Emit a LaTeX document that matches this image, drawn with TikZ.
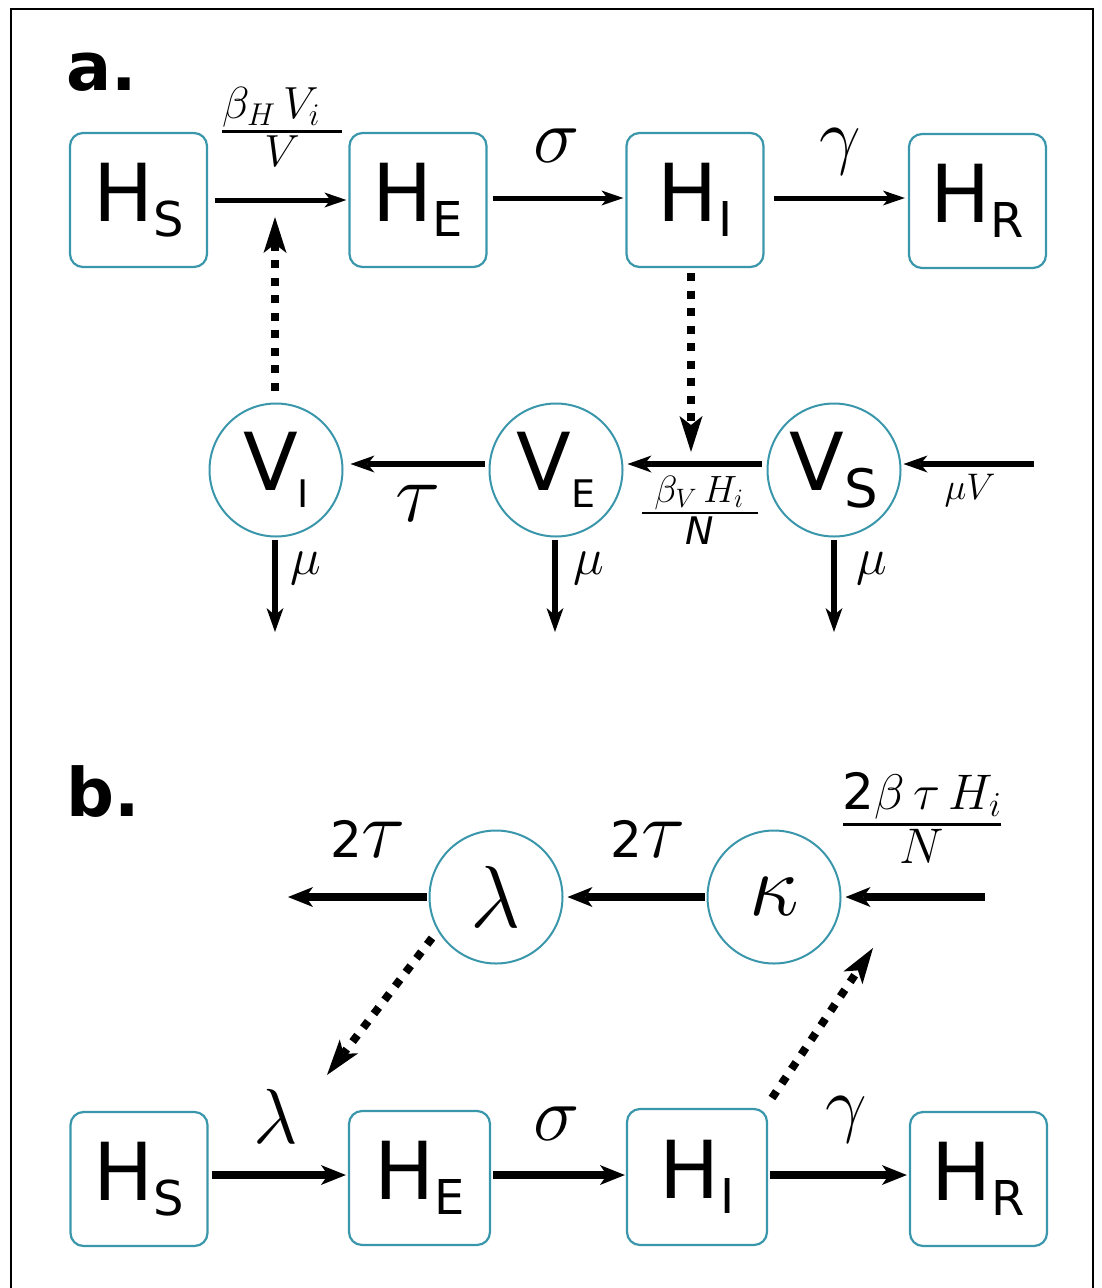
\RequirePackage{fix-cm}
\documentclass[tikz,border=0pt]{standalone}
\usepackage{amsmath}
\usepackage{fontspec}
\setmainfont{DejaVu Sans}
\usetikzlibrary{arrows.meta}
\definecolor{teal1}{RGB}{58,150,170}
\newcommand\fsz[1]{\fontsize{#1}{#1}\selectfont}
\newcommand\tfr[3]{\genfrac{}{}{#1}{1}{\textstyle #2}{\textstyle #3}}
\tikzset{
  hbox/.style={draw=teal1, line width=2.2pt, rounded corners=13pt, minimum width=137pt, minimum height=134pt, inner sep=0pt},
  vcirc/.style={circle, draw=teal1, line width=2pt, minimum size=133pt, inner sep=0pt},
  flow/.style={line width=5pt, -{Stealth[length=22pt, width=15pt, inset=6pt, line width=0pt]}},
  flowv/.style={line width=6pt, -{Stealth[length=24pt, width=17pt, inset=7pt, line width=0pt]}},
  flowb/.style={line width=7.5pt, -{Stealth[length=25pt, width=20pt, inset=7pt, line width=0pt]}},
  infl/.style={line width=8pt, dash pattern=on 8pt off 9.5pt, -{Stealth[length=36pt, width=23pt, inset=9pt, line width=0pt]}},
  lbl/.style={inner sep=0pt},
}
\begin{document}
\begin{tikzpicture}[x=1pt, y=-1pt]
\useasboundingbox (0,0) rectangle (1101,1288);
\clip (0,0) rectangle (1101,1288);
\draw[line width=1.5pt] (11,9) rectangle (1093,1300);

% ---------- panel a ----------
\node[lbl, anchor=base west] (la) at (66,90) {\fsz{67}\bfseries a.};

\node[hbox] (HS) at (138.5,200) {\fsz{80}H\raisebox{-15pt}{\fsz{48}S}};
\node[hbox] (HE) at (418,200) {\fsz{80}H\raisebox{-15pt}{\fsz{48}E}};
\node[hbox] (HI) at (695,200) {\fsz{80}H\raisebox{-15pt}{\fsz{48}I}};
\node[hbox] (HR) at (977.5,201) {\fsz{80}H\raisebox{-15pt}{\fsz{48}R}};

\node[vcirc] (VI) at (276,470) {\fsz{80}V\raisebox{-17pt}{\fsz{38}I}};
\node[vcirc] (VE) at (556,470) {\fsz{80}V\raisebox{-17pt}{\fsz{38}E}};
\node[vcirc] (VS) at (834,470) {\fsz{80}V\raisebox{-17pt}{\fsz{53}S}};

\draw[flow] ([shift={(7,0)}]HS.east) -- ([shift={(-2,0)}]HE.west);
\draw[flow] ([shift={(5,-2)}]HE.east) -- ([shift={(-2,-2)}]HI.west);
\draw[flow] ([shift={(9,-2)}]HI.east) -- ([shift={(-3,-3)}]HR.west);

\coordinate (muVin) at (1034,464);
\draw[flowv] ([shift={(-4,-6)}]VE.west) -- ([shift={(7,-6)}]VI.east);
\draw[flowv] ([shift={(-5,-6)}]VS.west) -- ([shift={(4,-6)}]VE.east);
\draw[flowv] (muVin) -- ([shift={(2,-6)}]VS.east);

\coordinate (oI) at (275,632);
\coordinate (oE) at (555,632);
\coordinate (oS) at (834,632);
\draw[flowv] ([shift={(-1,2)}]VI.south) -- (oI);
\draw[flowv] ([shift={(-1,2)}]VE.south) -- (oE);
\draw[flowv] ([shift={(0,2)}]VS.south) -- (oS);

\coordinate (tipA) at (275,217);
\coordinate (tipB) at (691,452);
\draw[infl] ([shift={(-1,-12)}]VI.north) -- (tipA);
\draw[infl] ([shift={(-4,5)}]HI.south) -- (tipB);

\node[lbl] (fHS) at (282,127) {\fsz{45}$\tfr{2.6pt}{\beta_H\, V_i\hspace{22pt}}{V}$};
\node[lbl] (sgA) at (557,146) {\fsz{78}$\sigma$};
\node[lbl] (gmA) at (840,152) {\fsz{74}$\gamma$};
\node[lbl] (tauA) at (418,503) {\fsz{84}$\tau$};
\node[lbl] (fVS) at (700,510) {\fsz{38}$\tfr{2.4pt}{\hspace{12pt}\beta_V\,H_i\hspace{14pt}}{\mbox{\itshape N}}$};
\node[lbl] (muV) at (970,490) {\fsz{37}$\mu V$};
\node[lbl] (muI) at (306,568) {\fsz{52}$\mu$};
\node[lbl] (muE) at (589,568) {\fsz{52}$\mu$};
\node[lbl] (muS) at (872,568) {\fsz{52}$\mu$};

% ---------- panel b ----------
\node[lbl, anchor=base west] (lb) at (66,816) {\fsz{67}\bfseries b.};

\node[vcirc] (LAM) at (496,897) {\fsz{88}$\lambda$};
\node[vcirc] (KAP) at (774,897) {\fsz{88}$\kappa$};

\node[hbox] (HS2) at (139,1179) {\fsz{80}H\raisebox{-15pt}{\fsz{48}S}};
\node[hbox, minimum width=141pt] (HE2) at (419.5,1178) {\fsz{80}H\raisebox{-15pt}{\fsz{48}E}};
\node[hbox, minimum width=140pt, minimum height=136pt] (HI2) at (697,1177) {\fsz{80}H\raisebox{-15pt}{\fsz{48}I}};
\node[hbox] (HR2) at (978.5,1179) {\fsz{80}H\raisebox{-15pt}{\fsz{48}R}};

\coordinate (kin) at (985,897);
\coordinate (lout) at (288,897);
\draw[flowb] (kin) -- ([shift={(4,0)}]KAP.east);
\draw[flowb] ([shift={(-2,0)}]KAP.west) -- ([shift={(4,0)}]LAM.east);
\draw[flowb] ([shift={(-2,0)}]LAM.west) -- (lout);

\draw[flowb] ([shift={(3,-4)}]HS2.east) -- ([shift={(-2,-3)}]HE2.west);
\draw[flowb] ([shift={(2,-3)}]HE2.east) -- ([shift={(-1,-2)}]HI2.west);
\draw[flowb] ([shift={(2,-2)}]HI2.east) -- ([shift={(-2,-4)}]HR2.west);

\coordinate (tipL) at (327,1075);
\coordinate (tipK) at (873,948);
\draw[infl] ([shift={(-64,41)}]LAM.center) -- (tipL);
\draw[infl] ([shift={(75,-79)}]HI2.center) -- (tipK);

\node[lbl] (fK) at (922,818) {\fsz{50}$\tfr{3.5pt}{\mbox{2}\beta\,\tau\,H_i}{N}$};
\node[lbl] (tt1) at (368,839) {\fsz{50}2\fsz{82}$\tau$};
\node[lbl] (tt2) at (648,839) {\fsz{50}2\fsz{82}$\tau$};
\node[lbl] (lmB) at (276,1116) {\fsz{78}$\lambda$};
\node[lbl] (sgB) at (557,1124) {\fsz{78}$\sigma$};
\node[lbl] (gmB) at (846,1120) {\fsz{74}$\gamma$};
\end{tikzpicture}
\end{document}
